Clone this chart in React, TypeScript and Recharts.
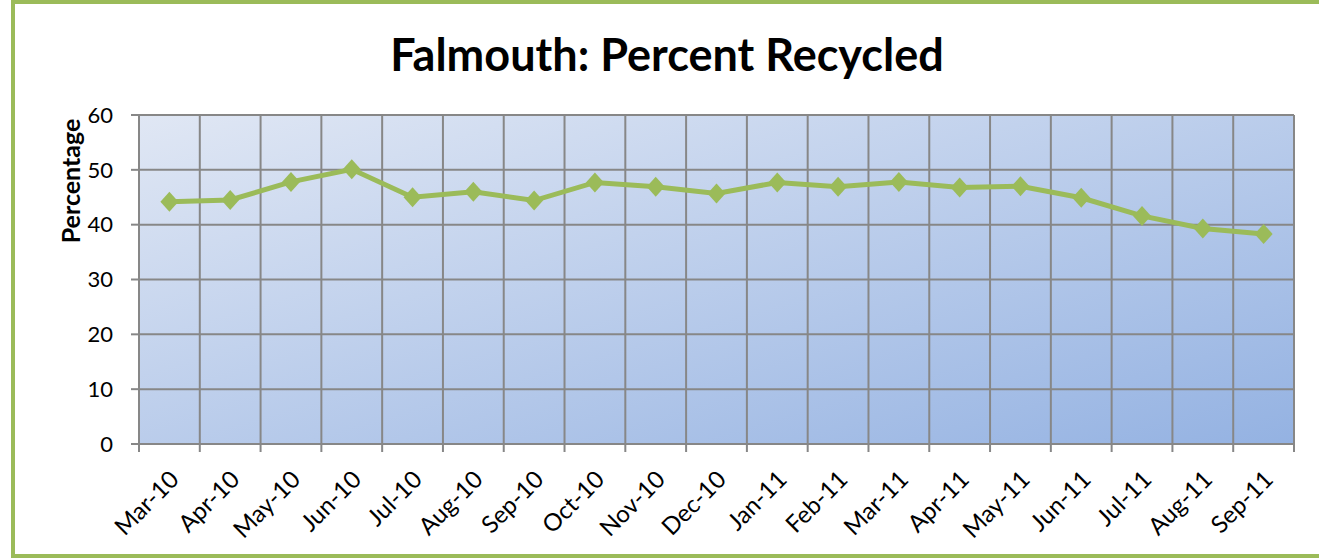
import React from 'react';
import { LineChart, Line, XAxis, YAxis, CartesianGrid } from 'recharts';

// Monthly recycling share
const months = [
  'Mar-10', 'Apr-10', 'May-10', 'Jun-10', 'Jul-10', 'Aug-10', 'Sep-10', 'Oct-10', 'Nov-10', 'Dec-10',
  'Jan-11', 'Feb-11', 'Mar-11', 'Apr-11', 'May-11', 'Jun-11', 'Jul-11', 'Aug-11', 'Sep-11',
];
const percentRecycled = [
  44.2, 44.5, 47.8, 50.1, 45.0, 46.0, 44.4, 47.7, 46.9, 45.7,
  47.7, 46.9, 47.8, 46.8, 47.0, 44.9, 41.6, 39.3, 38.3,
];
const yTicks = [0, 10, 20, 30, 40, 50, 60];

const data = months.map((m, i) => ({ idx: i, month: m, pct: percentRecycled[i] }));

// category boundaries for the vertical grid / tick marks (Excel style)
const boundaries = months.map((_, i) => i - 0.5).concat([months.length - 0.5]);
const xTicks = months.map((_, i) => i).concat(boundaries).sort((a, b) => a - b);

const GREEN = '#9BBB59';
const GRID = '#878787';
const FONT = 'Lato, "Noto Sans", sans-serif';

const XTick = (props: any) => {
  const { x, y, payload } = props;
  const v = payload.value;
  if (!Number.isInteger(v)) {
    return <line x1={x} x2={x} y1={y - 8} y2={y} stroke={GRID} strokeWidth={2} />;
  }
  const ax = x + 11;
  const ay = y + 29;
  return (
    <text
      x={ax}
      y={ay}
      transform={`rotate(-45 ${ax} ${ay})`}
      textAnchor="end"
      fontSize={24}
      fontFamily={FONT}
      fill="#000"
    >
      {months[v]}
    </text>
  );
};

const Diamond = (props: any) => {
  const { cx, cy } = props;
  if (cx == null || cy == null) return null;
  const w = 9;
  const h = 10;
  return <polygon points={`${cx},${cy - h} ${cx + w},${cy} ${cx},${cy + h} ${cx - w},${cy}`} fill={GREEN} />;
};

const YLabel = (props: any) => {
  const { viewBox } = props;
  const x = viewBox.x + 21;
  const y = viewBox.y + 66;
  return (
    <text
      x={x}
      y={y}
      transform={`rotate(-90 ${x} ${y})`}
      textAnchor="middle"
      fontSize={25}
      fontWeight="bold"
      fontFamily={FONT}
      fill="#000"
    >
      Percentage
    </text>
  );
};

const App = () => (
  <div style={{ position: 'absolute', left: 0, top: 0, width: 1319, height: 560, overflow: 'hidden', background: '#fff' }}>
    <div
      style={{
        position: 'absolute',
        left: 11,
        top: 0,
        width: 1330,
        height: 558,
        border: `4px solid ${GREEN}`,
        boxSizing: 'border-box',
      }}
    />
    <div
      style={{
        position: 'absolute',
        left: 0,
        top: 27,
        width: 1334,
        textAlign: 'center',
        fontFamily: FONT,
        fontWeight: 'bold',
        fontSize: 45,
        color: '#000',
      }}
    >
      Falmouth: Percent Recycled
    </div>
    <div style={{ position: 'absolute', left: 0, top: 0 }}>
      <LineChart width={1319} height={560} data={data} margin={{ top: 115, right: 25, left: 59, bottom: 0 }}>
        <defs>
          <linearGradient id="plotBg" x1="0" y1="0" x2="1" y2="1">
            <stop offset="0%" stopColor="#E0E7F4" />
            <stop offset="100%" stopColor="#94B2E2" />
          </linearGradient>
        </defs>
        <CartesianGrid
          fill="url(#plotBg)"
          stroke={GRID}
          strokeWidth={2}
          verticalValues={boundaries}
          horizontalValues={yTicks}
        />
        <XAxis
          dataKey="idx"
          type="number"
          domain={[-0.5, months.length - 0.5]}
          ticks={xTicks}
          interval={0}
          height={116}
          tickLine={false}
          tickSize={8}
          tickMargin={0}
          axisLine={{ stroke: GRID, strokeWidth: 2 }}
          tick={<XTick />}
        />
        <YAxis
          domain={[0, 60]}
          ticks={yTicks}
          width={80}
          tickSize={8}
          tickMargin={18}
          axisLine={{ stroke: GRID, strokeWidth: 2 }}
          tickLine={{ stroke: GRID, strokeWidth: 2 }}
          tick={{ fontSize: 22, fontFamily: FONT, fill: '#000' }}
          label={<YLabel />}
        />
        <Line
          dataKey="pct"
          stroke={GREEN}
          strokeWidth={5}
          dot={<Diamond />}
          activeDot={false}
          isAnimationActive={false}
        />
      </LineChart>
    </div>
  </div>
);

export default App;
